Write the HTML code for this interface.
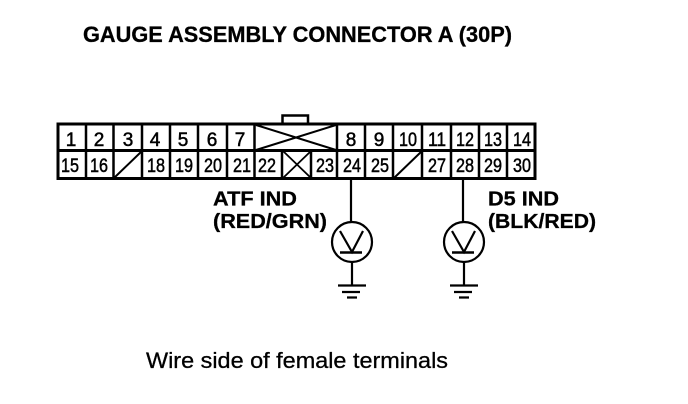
<!DOCTYPE html>
<html><head><meta charset="utf-8"><style>
html,body{margin:0;padding:0;background:#fff;width:688px;height:404px;overflow:hidden}
svg{display:block}
text{font-family:"Liberation Sans",sans-serif;fill:#000}
.n{font-size:19px;text-anchor:middle;stroke:#000;stroke-width:.5}
.b{font-size:20px;font-weight:bold;stroke:#000;stroke-width:.3}
</style></head><body>
<svg width="688" height="404" viewBox="0 0 688 404" xmlns="http://www.w3.org/2000/svg">
<text class="b" x="83" y="42" textLength="429" lengthAdjust="spacingAndGlyphs" style="font-size:22.500px">GAUGE ASSEMBLY CONNECTOR A (30P)</text>

<g fill="none" stroke="#000">
<path d="M282.500 124V115.500H308V124" stroke-width="2.500"/>
<rect x="58" y="124" width="477" height="54.500" stroke-width="3"/>
<path d="M57 150.500H535" stroke-width="3"/>
<path d="M86 124V178M113.500 124V178M142 124V178M170 124V178M198 124V178M227 124V178M254.500 124V178M282 150V178M311 150V178M337 124V178M365 124V178M393 124V178M422 124V178M451 124V178M479 124V178M507 124V178" stroke-width="2.500"/>
<path d="M256 125L336 150M256 150L336 125" stroke-width="2"/>
<path d="M114 178L142 151M394 178L422 151" stroke-width="2"/>
<path d="M283 151L311 178M311 151L283 178" stroke-width="1.800"/>
</g>

<text class="n" x="71" y="146" textLength="9">1</text><text class="n" x="99" y="146" textLength="9">2</text><text class="n" x="128" y="146" textLength="9">3</text><text class="n" x="155" y="146" textLength="9">4</text><text class="n" x="183" y="146" textLength="9">5</text><text class="n" x="212" y="146" textLength="9">6</text><text class="n" x="240" y="146" textLength="9">7</text>
<text class="n" x="351" y="146" textLength="9">8</text><text class="n" x="379" y="146" textLength="9">9</text><text class="n" x="408" y="146" textLength="18" lengthAdjust="spacingAndGlyphs">10</text><text class="n" x="437" y="146" textLength="18" lengthAdjust="spacingAndGlyphs">11</text><text class="n" x="465" y="146" textLength="18" lengthAdjust="spacingAndGlyphs">12</text><text class="n" x="493" y="146" textLength="18" lengthAdjust="spacingAndGlyphs">13</text><text class="n" x="522" y="146" textLength="18" lengthAdjust="spacingAndGlyphs">14</text>
<text class="n" x="70" y="172" textLength="18" lengthAdjust="spacingAndGlyphs">15</text><text class="n" x="99" y="172" textLength="18" lengthAdjust="spacingAndGlyphs">16</text><text class="n" x="156" y="172" textLength="18" lengthAdjust="spacingAndGlyphs">18</text><text class="n" x="184" y="172" textLength="18" lengthAdjust="spacingAndGlyphs">19</text><text class="n" x="213" y="172" textLength="18" lengthAdjust="spacingAndGlyphs">20</text><text class="n" x="242" y="172" textLength="18" lengthAdjust="spacingAndGlyphs">21</text><text class="n" x="267" y="172" textLength="18" lengthAdjust="spacingAndGlyphs">22</text>
<text class="n" x="325" y="172" textLength="18" lengthAdjust="spacingAndGlyphs">23</text><text class="n" x="352" y="172" textLength="18" lengthAdjust="spacingAndGlyphs">24</text><text class="n" x="380" y="172" textLength="18" lengthAdjust="spacingAndGlyphs">25</text><text class="n" x="437" y="172" textLength="18" lengthAdjust="spacingAndGlyphs">27</text><text class="n" x="465" y="172" textLength="18" lengthAdjust="spacingAndGlyphs">28</text><text class="n" x="493" y="172" textLength="18" lengthAdjust="spacingAndGlyphs">29</text><text class="n" x="522" y="172" textLength="18" lengthAdjust="spacingAndGlyphs">30</text>

<g fill="none" stroke="#000" stroke-width="2.200">
<path d="M351 178V222M352 262V285"/>
<circle cx="352" cy="242" r="20"/>
<path d="M340 231L352 252L363 231"/>
<path d="M340 252.500H362" stroke-width="2.500"/>
<path d="M338 285.500H366M342 292H360M347 297.500H357"/>

<path d="M463 178V222M464 262V285"/>
<circle cx="464" cy="242" r="20"/>
<path d="M452 231L464 252L475 231"/>
<path d="M452 252.500H474" stroke-width="2.500"/>
<path d="M450 285.500H478M454 292H472M459 297.500H469"/>
</g>

<text class="b" x="213" y="205.500" textLength="84" lengthAdjust="spacingAndGlyphs">ATF IND</text>
<text class="b" x="213" y="228" textLength="114" lengthAdjust="spacingAndGlyphs">(RED/GRN)</text>
<text class="b" x="488" y="205.500" textLength="71" lengthAdjust="spacingAndGlyphs">D5 IND</text>
<text class="b" x="488" y="228" textLength="108" lengthAdjust="spacingAndGlyphs">(BLK/RED)</text>

<text x="146" y="368" textLength="302" lengthAdjust="spacingAndGlyphs" style="font-size:22.500px;stroke:#000;stroke-width:.3">Wire side of female terminals</text>
</svg>
</body></html>
